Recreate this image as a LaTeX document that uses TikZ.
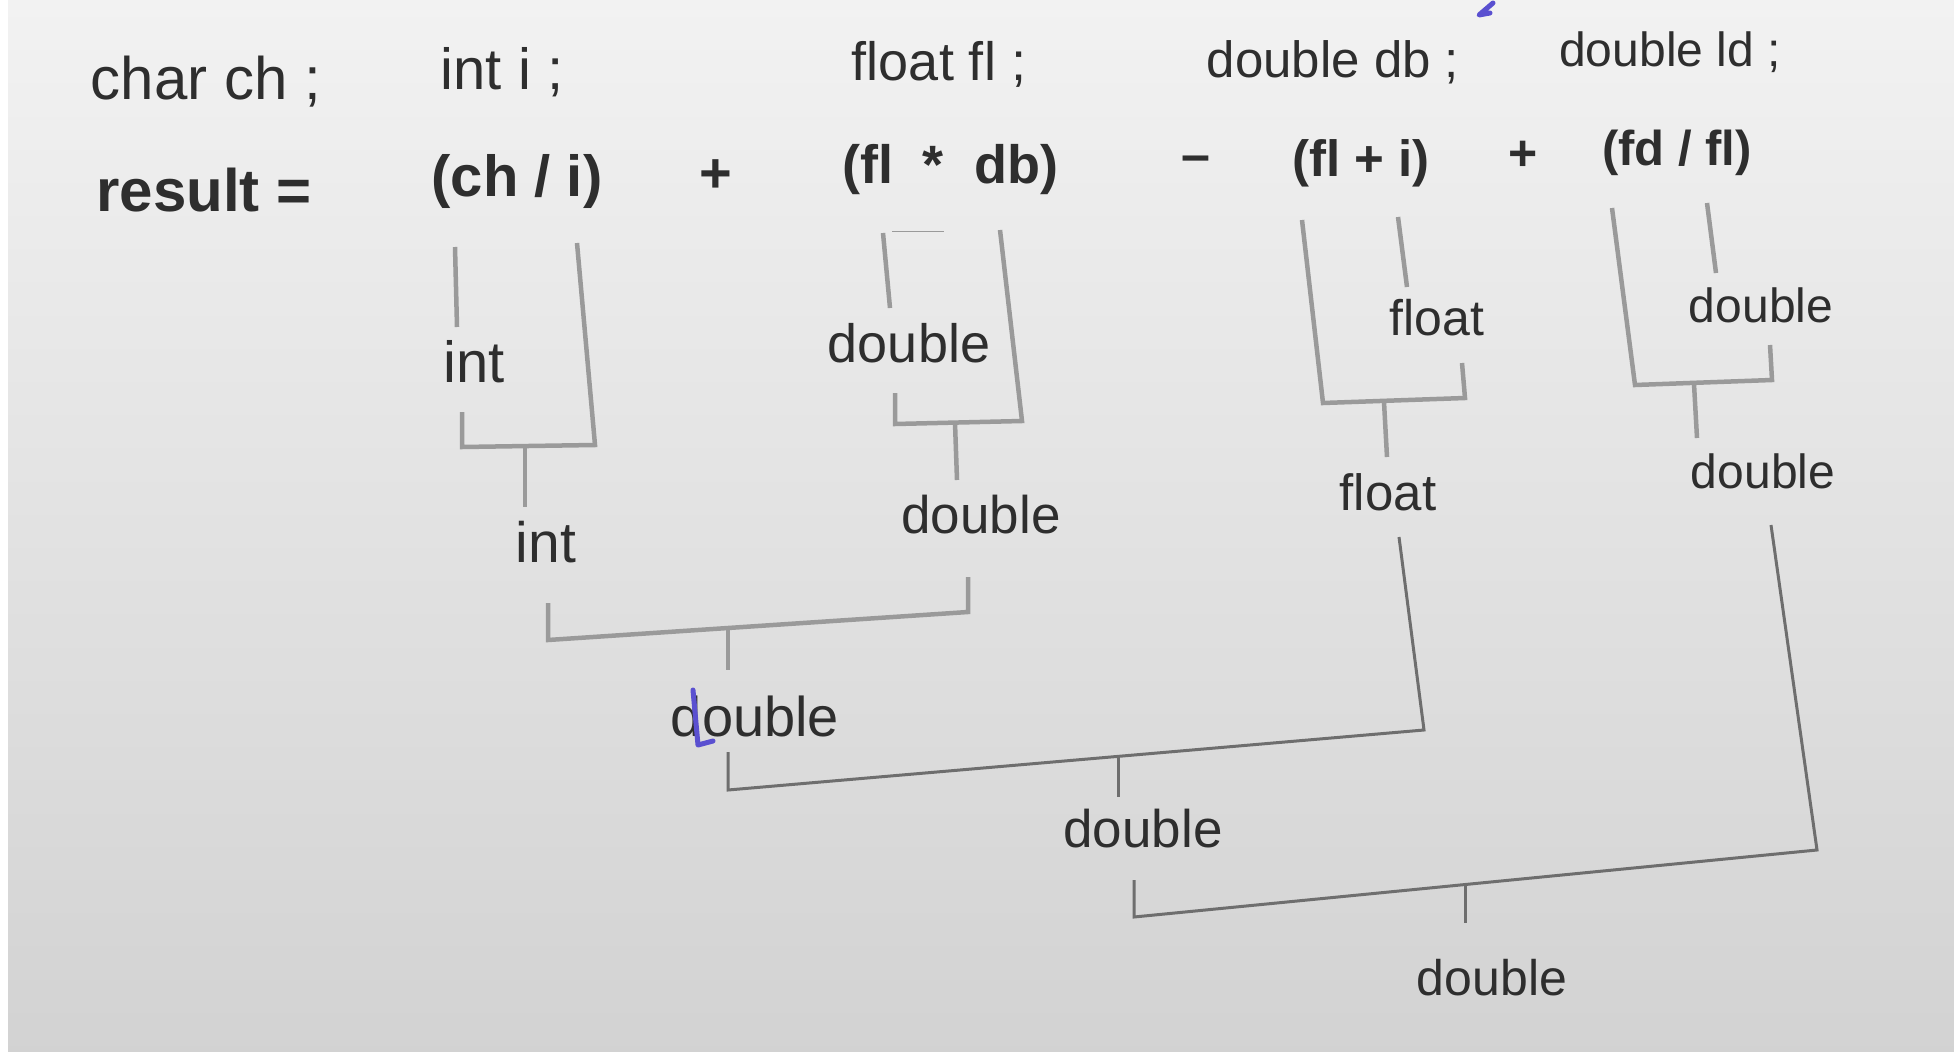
\documentclass[tikz,border=0pt]{standalone}
\usepackage{fontspec}
\setmainfont{Liberation Sans}
\definecolor{ink}{HTML}{2E2E2E}
\definecolor{brgray}{HTML}{9A9A9A}
\definecolor{brdark}{HTML}{6E6E6E}
\definecolor{pen}{HTML}{5A50D0}
\definecolor{papertop}{HTML}{F2F2F2}
\definecolor{paperbot}{HTML}{D2D2D2}
\tikzset{
  txt/.style={inner sep=0pt, text=ink, font=\fontsize{#1}{#1}\selectfont},
  btxt/.style={inner sep=0pt, text=ink, font=\fontsize{#1}{#1}\selectfont\bfseries},
  br/.style={draw=brgray, line width=4.5pt, line join=miter},
  brl/.style={draw=brdark, line width=3pt, line join=miter},
  penstroke/.style={draw=pen, line width=5pt, line cap=round, line join=round},
}
\begin{document}
\begin{tikzpicture}[x=1pt,y=-1pt]
\useasboundingbox (0,0) rectangle (1954,1062);
\shade[top color=papertop, bottom color=paperbot] (0,0) rectangle (1954,1062);
\fill[white] (0,1052) rectangle (1954,1062);
\fill[white] (0,0) rectangle (8,1062);

% declarations
\node[txt=60] (dch) at (206,82) {char ch ;};
\node[txt=58] (di) at (502,72) {int i ;};
\node[txt=54] (dfl) at (939,64) {float fl ;};
\node[txt=51] (ddb) at (1333,62) {double db ;};
\node[txt=48] (dld) at (1670,52) {double ld ;};

% expression
\node[btxt=60] (res) at (204,190) {result =};
\node[btxt=58] (e1) at (517,182) {(ch / i)};
\node[btxt=56] (op1) at (716,176) {+};
\node[btxt=54] (e2) at (950,170) {(fl~~*~~db)};
\node[btxt=52] (op2) at (1196,164) {--};
\node[btxt=51] (e3) at (1361,163) {(fl + i)};
\node[btxt=50] (op3) at (1523,156) {+};
\node[btxt=49] (e4) at (1677,153) {(fd / fl)};

% intermediate labels
\node[txt=58] (l1) at (474,362) {int};
\node[txt=57] (r1) at (546,542) {int};
\node[txt=54] (l2) at (909,343) {double};
\node[txt=53] (r2) at (981,515) {double};
\node[txt=50] (l3) at (1437,318) {float};
\node[txt=51] (r3) at (1388,492) {float};
\node[txt=48] (l4) at (1761,305) {double};
\node[txt=48] (r4) at (1763,471) {double};
\node[txt=56] (r5) at (755,716) {double};
\node[txt=53] (r6) at (1143,829) {double};
\node[txt=50] (r7) at (1492,978) {double};

% bracket 1 : (ch / i)
\coordinate (b1a) at (455,247); \coordinate (b1b) at (457,327);
\coordinate (b1c) at (462,412); \coordinate (b1d) at (462,447);
\coordinate (b1e) at (595,445); \coordinate (b1f) at (577,243);
\coordinate (b1m) at (525,446); \coordinate (b1n) at (525,507);
\draw[br] (b1a) -- (b1b);
\draw[br] (b1c) -- (b1d) -- (b1e) -- (b1f);
\draw[br] (b1m) -- (b1n);

% bracket 2 : (fl * db)
\draw[draw=brgray, line width=1pt] (892,231) -- (944,231);
\coordinate (b2a) at (883,233); \coordinate (b2b) at (890,308);
\coordinate (b2c) at (895,393); \coordinate (b2d) at (895,424);
\coordinate (b2e) at (1022,421); \coordinate (b2f) at (1000,230);
\coordinate (b2m) at (955,423); \coordinate (b2n) at (957,480);
\draw[br] (b2a) -- (b2b);
\draw[br] (b2c) -- (b2d) -- (b2e) -- (b2f);
\draw[br] (b2m) -- (b2n);

% bracket 3 : (fl + i)
\coordinate (b3a) at (1398,217); \coordinate (b3b) at (1407,287);
\coordinate (b3c) at (1302,220); \coordinate (b3d) at (1323,403);
\coordinate (b3e) at (1465,398); \coordinate (b3f) at (1462,363);
\coordinate (b3m) at (1384,402); \coordinate (b3n) at (1387,457);
\draw[br] (b3a) -- (b3b);
\draw[br] (b3c) -- (b3d) -- (b3e) -- (b3f);
\draw[br] (b3m) -- (b3n);

% bracket 4 : (fd / fl)
\coordinate (b4a) at (1707,203); \coordinate (b4b) at (1716,273);
\coordinate (b4c) at (1612,208); \coordinate (b4d) at (1635,385);
\coordinate (b4e) at (1772,380); \coordinate (b4f) at (1770,345);
\coordinate (b4m) at (1694,384); \coordinate (b4n) at (1697,438);
\draw[br] (b4a) -- (b4b);
\draw[br] (b4c) -- (b4d) -- (b4e) -- (b4f);
\draw[br] (b4m) -- (b4n);

% bracket 5 : int + double
\coordinate (b5a) at (548,603); \coordinate (b5b) at (548,640);
\coordinate (b5c) at (968,612); \coordinate (b5d) at (968,577);
\coordinate (b5m) at (728,628); \coordinate (b5n) at (728,670);
\draw[br] (b5a) -- (b5b) -- (b5c) -- (b5d);
\draw[br] (b5m) -- (b5n);

% bracket 6 : double - float
\coordinate (b6a) at (728,752); \coordinate (b6b) at (728,790);
\coordinate (b6c) at (1424,730); \coordinate (b6d) at (1399,537);
\coordinate (b6m) at (1118,757); \coordinate (b6n) at (1118,797);
\draw[brl] (b6a) -- (b6b) -- (b6c) -- (b6d);
\draw[brl] (b6m) -- (b6n);

% bracket 7 : double + double
\coordinate (b7a) at (1134,880); \coordinate (b7b) at (1134,917);
\coordinate (b7c) at (1817,850); \coordinate (b7d) at (1771,525);
\coordinate (b7m) at (1465,885); \coordinate (b7n) at (1465,923);
\draw[brl] (b7a) -- (b7b) -- (b7c) -- (b7d);
\draw[brl] (b7m) -- (b7n);

% pen marks
\draw[penstroke] (693,690) -- (698,745) -- (713,741);
\draw[penstroke] (1493,3) -- (1479,15) -- (1490,13);
\end{tikzpicture}
\end{document}
